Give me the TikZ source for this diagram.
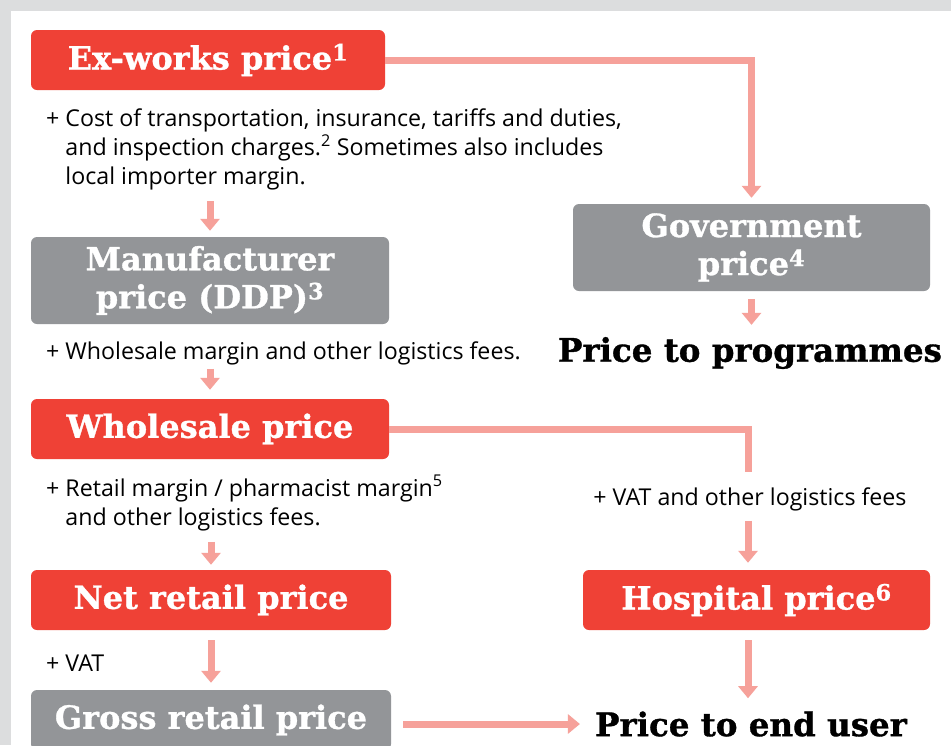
\documentclass[tikz,border=0pt]{standalone}
\usepackage{fontspec}
\setmainfont{Open Sans}
\newfontfamily\slab[BoldFeatures={FakeBold=1}]{DejaVu Serif}
\usetikzlibrary{arrows.meta,positioning}
\definecolor{boxred}{HTML}{EF4136}
\definecolor{boxgray}{HTML}{939598}
\definecolor{linkpink}{HTML}{F6A19A}
\definecolor{framegray}{HTML}{DCDDDE}
\begin{document}
\begin{tikzpicture}[x=1pt,y=-1pt,
    box/.style={rounded corners=6pt, text=white, align=center, inner sep=0pt,
        font=\slab\bfseries\fontsize{32}{38}\selectfont},
    redbox/.style={box, fill=boxred},
    graybox/.style={box, fill=boxgray},
    note/.style={inner sep=0pt, anchor=base west, font=\fontsize{23.2}{29}\selectfont},
    goal/.style={inner sep=0pt, font=\slab\bfseries\fontsize{32.5}{38}\selectfont},
    conn/.style={draw=linkpink, line width=7pt},
    arr/.style={conn, -{Triangle[width=19pt,length=12pt]}}]
    \useasboundingbox (0,0) rectangle (951,745);
    \fill[framegray] (0,0) rectangle (951,745);
    \fill[white] (11,11) rectangle (951,745);

    % price boxes
    \node[redbox, minimum width=354pt, minimum height=60pt] (exw) at (208,60) {Ex-works price\textsuperscript{1}};
    \node[graybox, minimum width=358pt, minimum height=87pt] (mfr) at (210,280.5) {Manufacturer\\price (DDP)\textsuperscript{3}};
    \node[graybox, minimum width=357pt, minimum height=87pt] (gov) at (751.5,247.5) {Government\\price\textsuperscript{4}};
    \node[redbox, minimum width=358pt, minimum height=60pt] (whs) at (210,429) {Wholesale price};
    \node[redbox, minimum width=360pt, minimum height=60pt] (net) at (211,600) {Net retail price};
    \node[redbox, minimum width=347pt, minimum height=60pt] (hosp) at (756.5,600) {Hospital price\textsuperscript{6}};
    \node[graybox, minimum width=360pt, minimum height=60pt] (gross) at (211,720) {Gross retail price};

    % end points
    \node[goal] (prog) at (750,353) {Price to programmes};
    \node[goal] (user) at (751,724) {Price to end user};

    % added costs
    \node[note] (cost) at (46,126) {\begin{tabular}[t]{@{}l@{ }l@{}}+ & Cost of transportation, insurance, tariffs and duties,\\
        & and inspection charges.\textsuperscript{2} Sometimes also includes\\ & local importer margin.\end{tabular}};
    \node[note] (wmar) at (46,359) {+ Wholesale margin and other logistics fees.};
    \node[note] (rmar) at (46,496) {\begin{tabular}[t]{@{}l@{ }l@{}}+ & Retail margin / pharmacist margin\textsuperscript{5}\\
        & and other logistics fees.\end{tabular}};
    \node[note, anchor=base] (hvat) at (750,505) {+ VAT and other logistics fees};
    \node[note] (rvat) at (46,671) {+ VAT};

    % connectors
    \draw[arr, shorten >=6pt] (exw.east) -| (gov.north);
    \draw[arr, shorten <=8pt, shorten >=6pt] (cost.south -| mfr.north) -- (mfr.north);
    \draw[arr, shorten <=8pt, shorten >=12pt] (gov.south) -- (gov.south |- prog.north);
    \draw[arr, shorten <=4pt, shorten >=9pt] (wmar.south -| whs.south) -- (whs.north);
    \draw[conn, shorten >=15pt] (whs.east) -| ([xshift=-2pt]hvat.north);
    \draw[arr, shorten <=10pt, shorten >=7pt] ([xshift=-2pt]hvat.south) -- ([xshift=-2pt]hvat.south |- hosp.north);
    \draw[arr, shorten <=8pt, shorten >=5pt] (rmar.south -| net.north) -- (net.north);
    \draw[arr, shorten <=10pt, shorten >=7pt] (net.south) -- (gross.north);
    \draw[arr, shorten <=10pt, shorten >=13pt] ([xshift=-2pt]hvat.south |- hosp.south) -- ([xshift=-2pt]hvat.south |- user.north);
    \draw[arr, shorten <=12pt, shorten >=15pt] (gross.east |- user.west) -- (user.west);
\end{tikzpicture}
\end{document}
